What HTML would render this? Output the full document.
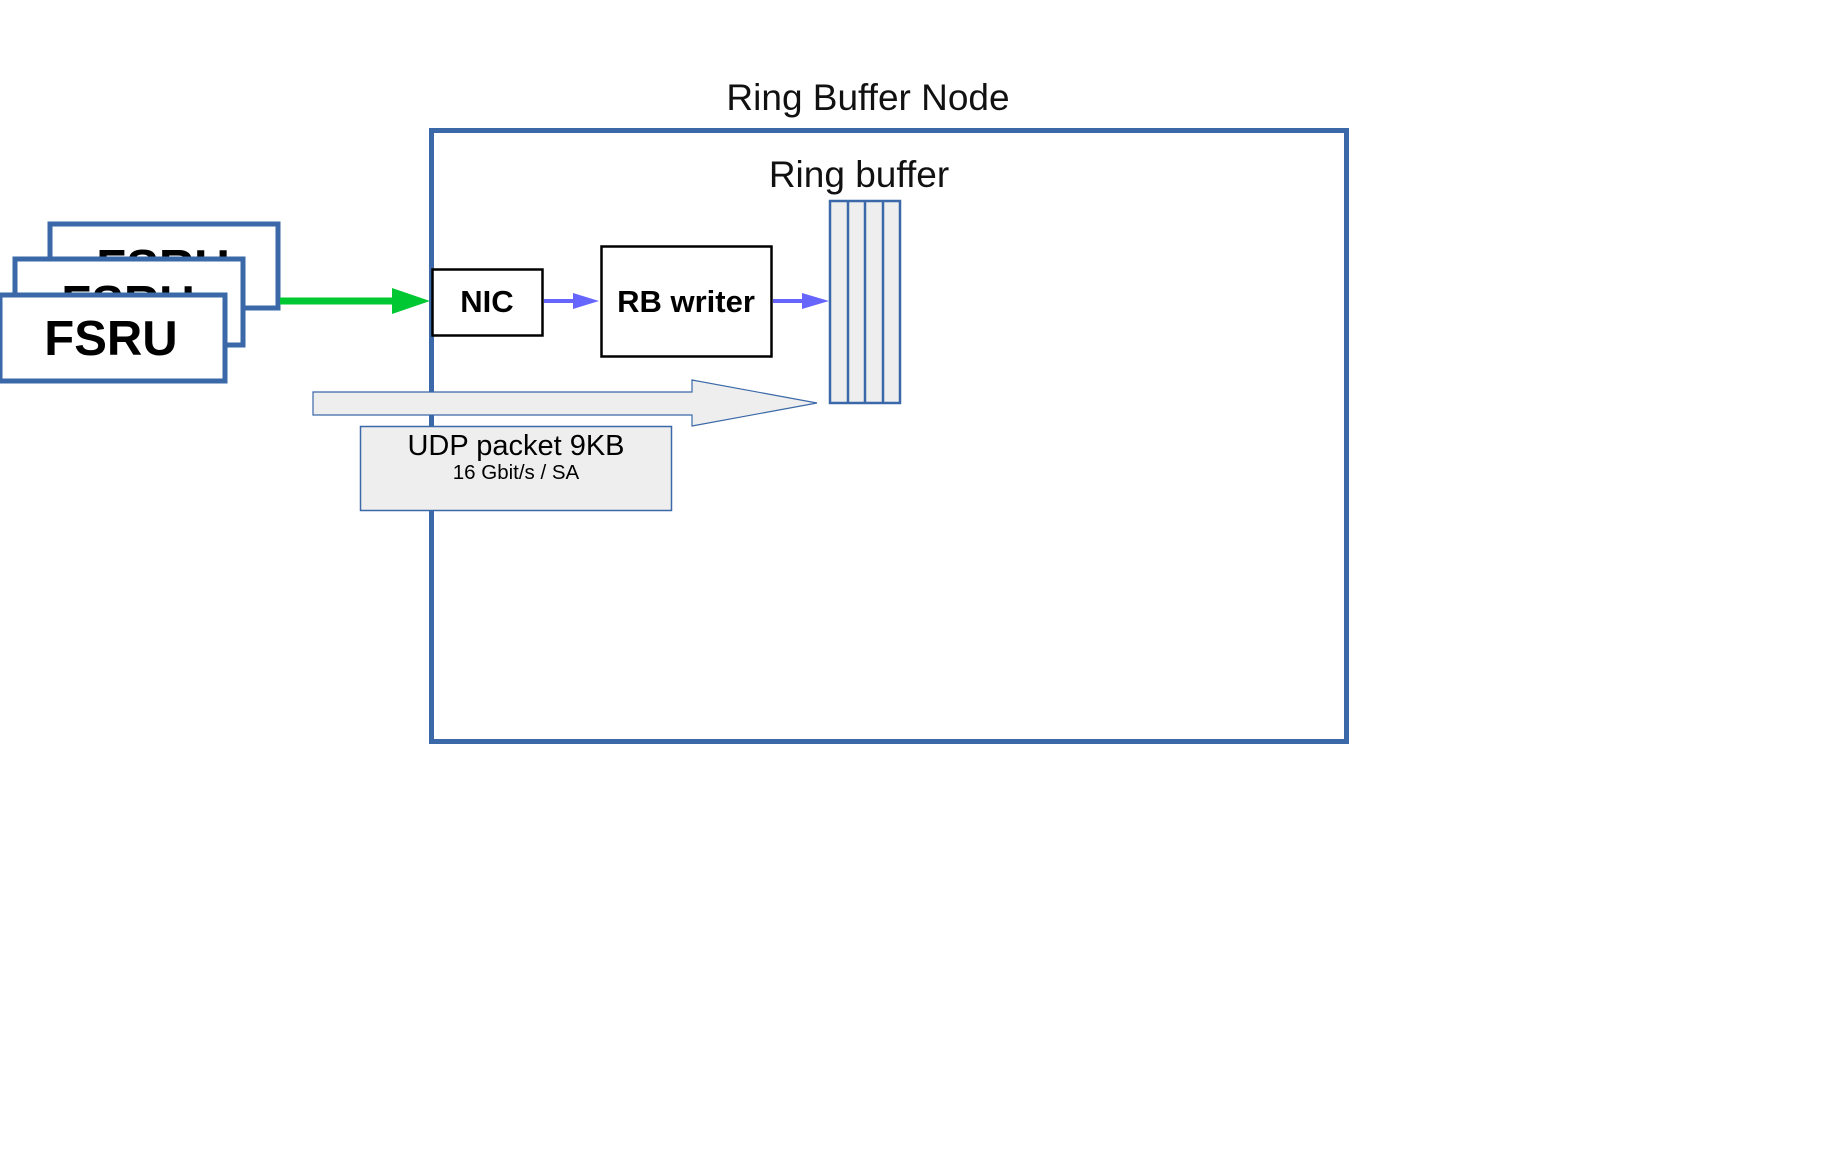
<!DOCTYPE html>
<html><head><meta charset="utf-8"><style>
html,body{margin:0;padding:0;background:#fff;}
svg{display:block;}
text{font-family:"Liberation Sans",sans-serif;}
</style></head><body>
<svg width="1831" height="1169" viewBox="0 0 1831 1169" xmlns="http://www.w3.org/2000/svg">
<rect width="1831" height="1169" fill="#fff"/>
<text x="868" y="110" font-size="37" text-anchor="middle" fill="#111">Ring Buffer Node</text>
<rect x="431.5" y="130.5" width="915" height="611" fill="none" stroke="#3a68a8" stroke-width="5"/>
<text x="859" y="187" font-size="37" text-anchor="middle" fill="#111">Ring buffer</text>
<rect x="830" y="201" width="70" height="202" fill="#eeeeee" stroke="#3a68a8" stroke-width="2.5"/>
<line x1="848" y1="201" x2="848" y2="403" stroke="#3a68a8" stroke-width="2.5"/>
<line x1="865" y1="201" x2="865" y2="403" stroke="#3a68a8" stroke-width="2.5"/>
<line x1="883" y1="201" x2="883" y2="403" stroke="#3a68a8" stroke-width="2.5"/>
<rect x="50" y="224" width="228" height="84" fill="#fff" stroke="#3a68a8" stroke-width="5"/>
<text x="163" y="284" font-size="49" font-weight="bold" text-anchor="middle" fill="#000">FSRU</text>
<rect x="15" y="259" width="228" height="86" fill="#fff" stroke="#3a68a8" stroke-width="5"/>
<text x="128" y="320" font-size="49" font-weight="bold" text-anchor="middle" fill="#000">FSRU</text>
<rect x="0" y="295" width="225" height="86" fill="#fff" stroke="#3a68a8" stroke-width="5"/>
<text x="111" y="355" font-size="49" font-weight="bold" text-anchor="middle" fill="#000">FSRU</text>
<line x1="280" y1="301" x2="394" y2="301" stroke="#00c832" stroke-width="7"/>
<polygon points="392,288 430,301 392,314" fill="#00c832"/>
<rect x="432.5" y="269.5" width="110" height="66" fill="#fff" stroke="#000" stroke-width="2.5"/>
<text x="487" y="312" font-size="31" font-weight="bold" text-anchor="middle" fill="#000">NIC</text>
<line x1="544" y1="301" x2="576" y2="301" stroke="#6666ff" stroke-width="4"/>
<polygon points="573,293 599,301 573,309" fill="#6666ff"/>
<rect x="601.5" y="246.5" width="170" height="110" fill="#fff" stroke="#000" stroke-width="2.5"/>
<text x="686" y="312" font-size="31" font-weight="bold" text-anchor="middle" fill="#000">RB writer</text>
<line x1="773" y1="301" x2="805" y2="301" stroke="#6666ff" stroke-width="4"/>
<polygon points="802,293 829,301 802,309" fill="#6666ff"/>
<polygon points="313,392 692,392 692,380 817,403 692,426 692,415 313,415" fill="#eeeeee" stroke="#3a68a8" stroke-width="1.2"/>
<rect x="360.5" y="426.5" width="311" height="84" fill="#eeeeee" stroke="#3a68a8" stroke-width="1.5"/>
<text x="516" y="455" font-size="29" text-anchor="middle" fill="#000">UDP packet 9KB</text>
<text x="516" y="479" font-size="20.5" text-anchor="middle" fill="#000">16 Gbit/s / SA</text>
</svg>
</body></html>
